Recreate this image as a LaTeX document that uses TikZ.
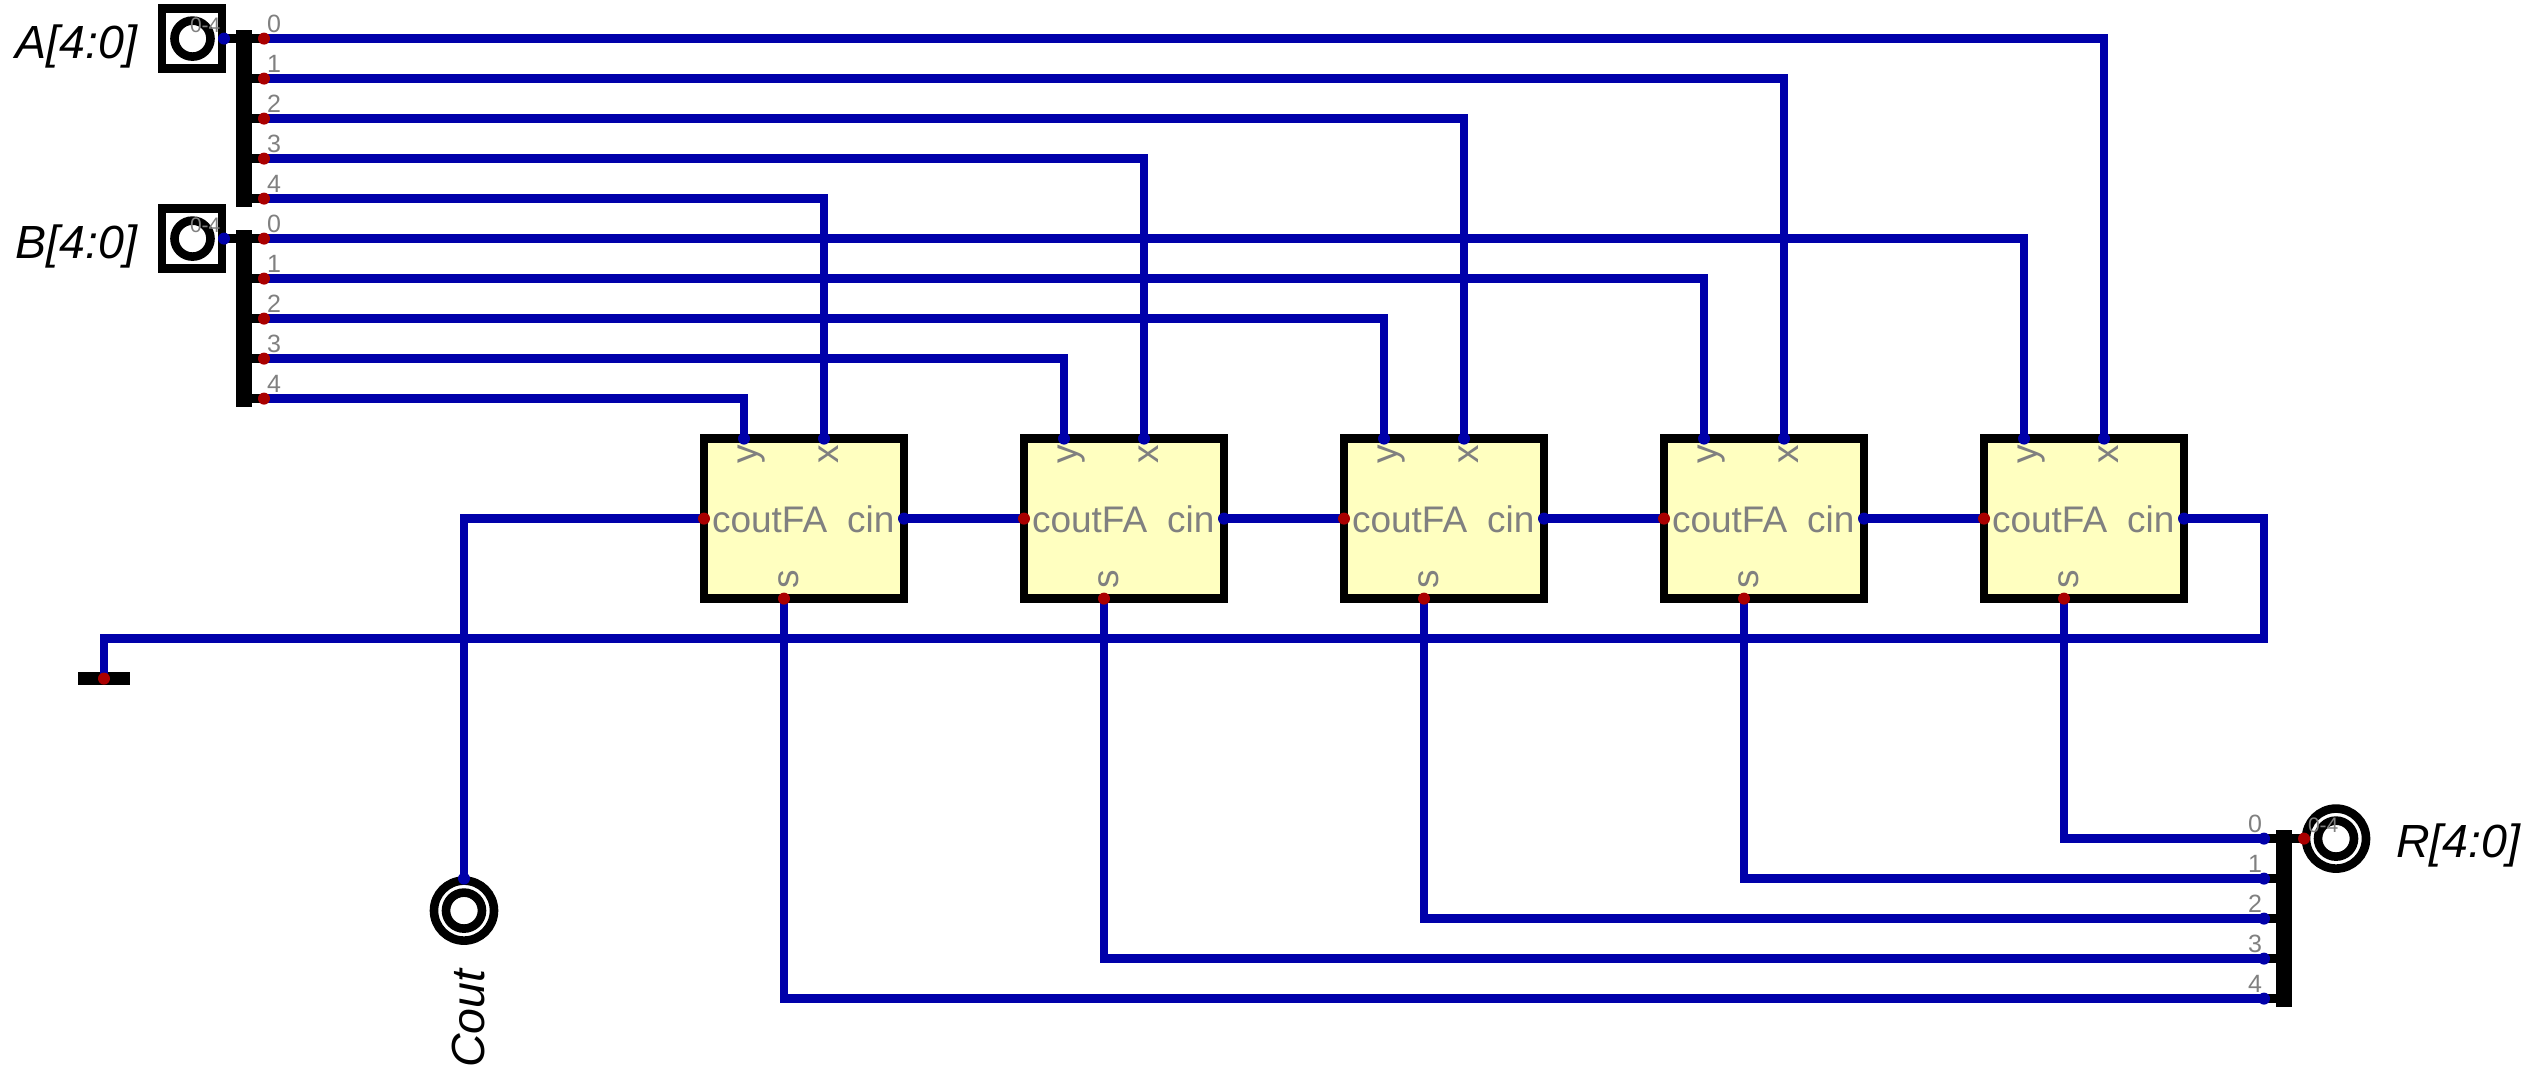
\documentclass[tikz,border=0pt]{standalone}
\usepackage{fontspec}
\setmainfont{Liberation Sans}
\definecolor{wireblue}{RGB}{0,0,170}
\definecolor{pinred}{RGB}{170,0,0}
\definecolor{boxyellow}{RGB}{255,255,192}
\definecolor{pingrey}{RGB}{128,128,128}
\newcommand{\fsize}[1]{\fontsize{#1}{#1}\selectfont}
\tikzset{
  wire/.style={draw=wireblue,line width=8.6pt},
  stub/.style={draw=black,line width=8.6pt},
  fabox/.style={draw=black,line width=8.6pt,fill=boxyellow,rectangle,minimum width=200pt,minimum height=160pt,inner sep=0pt,outer sep=0pt},
  inbox/.style={draw=black,line width=8.6pt,fill=white,rectangle,minimum size=60pt,inner sep=0pt,outer sep=0pt},
  ring/.style={draw=black,line width=8.6pt,circle,inner sep=0pt,outer sep=0pt,minimum size=#1},
  splitbar/.style={fill=black,rectangle,minimum width=16.6pt,minimum height=176.6pt,inner sep=0pt,outer sep=0pt},
  gndbar/.style={fill=black,rectangle,minimum width=52.6pt,minimum height=12.6pt,inner sep=0pt,outer sep=0pt},
  dotblue/.style={fill=wireblue,circle,minimum size=12pt,inner sep=0pt,outer sep=0pt},
  dotred/.style={fill=pinred,circle,minimum size=12pt,inner sep=0pt,outer sep=0pt},
  pintext/.style={text=pingrey,font=\fsize{37},inner sep=0pt,outer sep=0pt},
  bittext/.style={text=pingrey,font=\fsize{25},inner sep=0pt,outer sep=0pt},
  rangetext/.style={text=pingrey,font=\fsize{21},inner sep=0pt,outer sep=0pt},
  nametext/.style={text=black,font=\fsize{46.5}\itshape,inner sep=0pt,outer sep=0pt},
}
\begin{document}
\begin{tikzpicture}[x=1pt,y=-1pt]
\fill[white] (0,-0.6) rectangle (2530,1075.4);
\useasboundingbox (0,-0.6) rectangle (2530,1075.4);

% Named pin points
\foreach \i/\x in {1/704,2/1024,3/1344,4/1664,5/1984}{
  \pgfmathsetmacro{\xy}{\x+40}
  \pgfmathsetmacro{\xx}{\x+120}
  \pgfmathsetmacro{\xs}{\x+80}
  \pgfmathsetmacro{\xc}{\x+200}
  \pgfmathsetmacro{\xm}{\x+100}
  \node[fabox] (fa\i) at (\xm,518) {};
  \coordinate (fa\i y) at (\xy,438);
  \coordinate (fa\i x) at (\xx,438);
  \coordinate (fa\i s) at (\xs,598);
  \coordinate (fa\i cout) at (\x,518);
  \coordinate (fa\i cin) at (\xc,518);
}
\foreach \b in {0,...,4}{
  \pgfmathsetmacro{\ya}{38+40*\b}
  \pgfmathsetmacro{\yb}{238+40*\b}
  \pgfmathsetmacro{\yr}{838+40*\b}
  \coordinate (a\b) at (264,\ya);
  \coordinate (b\b) at (264,\yb);
  \coordinate (r\b) at (2264,\yr);
  \coordinate (as\b) at (244,\ya);
  \coordinate (bs\b) at (244,\yb);
  \coordinate (rs\b) at (2284,\yr);
}
\coordinate (ain) at (224,38);
\coordinate (bin) at (224,238);
\coordinate (rout) at (2304,838);
\coordinate (gnd) at (104,678);
\coordinate (coutpin) at (464,878);
\coordinate (cr1) at (2264,638);
\coordinate (cr2) at (104,638);
\coordinate (cr3) at (2264,518);
\coordinate (cl1) at (464,518);

% Terminals
\node[inbox] (abox) at (192,38) {};
\node[ring=36pt] (aring) at (192.5,38) {};
\node[inbox] (bbox) at (192,238) {};
\node[ring=36pt] (bring) at (192.5,238) {};
\node[ring=60pt] (rout1) at (2336,838) {};
\node[ring=36pt] (rout2) at (2336,838) {};
\node[ring=60pt] (cout1) at (464,910) {};
\node[ring=36pt] (cout2) at (464,910) {};
\node[gndbar] (gbar) at (104,678) {};

% Splitters
\node[splitbar] (asplit) at (244,118) {};
\node[splitbar] (bsplit) at (244,318) {};
\node[splitbar] (rsplit) at (2284,918) {};
\draw[stub] (ain) -- (as0);
\draw[stub] (bin) -- (bs0);
\draw[stub] (rs0) -- (rout);
\foreach \b in {0,...,4}{
  \draw[stub] (as\b) -- (a\b);
  \draw[stub] (bs\b) -- (b\b);
  \draw[stub] (rs\b) -- (r\b);
}

% Wires
\draw[wire] (a0) -| (fa5x);
\draw[wire] (a1) -| (fa4x);
\draw[wire] (a2) -| (fa3x);
\draw[wire] (a3) -| (fa2x);
\draw[wire] (a4) -| (fa1x);
\draw[wire] (b0) -| (fa5y);
\draw[wire] (b1) -| (fa4y);
\draw[wire] (b2) -| (fa3y);
\draw[wire] (b3) -| (fa2y);
\draw[wire] (b4) -| (fa1y);
\draw[wire] (fa5s) |- (r0);
\draw[wire] (fa4s) |- (r1);
\draw[wire] (fa3s) |- (r2);
\draw[wire] (fa2s) |- (r3);
\draw[wire] (fa1s) |- (r4);
\draw[wire] (fa1cin) -- (fa2cout);
\draw[wire] (fa2cin) -- (fa3cout);
\draw[wire] (fa3cin) -- (fa4cout);
\draw[wire] (fa4cin) -- (fa5cout);
\draw[wire] (fa5cin) -- (cr3) -- (cr1) -- (cr2) -- (gnd);
\draw[wire] (fa1cout) -- (cl1) -- (coutpin);

% Pin dots
\foreach \i in {1,...,5}{
  \node[dotblue] (dy\i) at (fa\i y) {};
  \node[dotblue] (dx\i) at (fa\i x) {};
  \node[dotblue] (dc\i) at (fa\i cin) {};
  \node[dotred] (dco\i) at (fa\i cout) {};
  \node[dotred] (ds\i) at (fa\i s) {};
}
\foreach \b in {0,...,4}{
  \node[dotred] (da\b) at (a\b) {};
  \node[dotred] (db\b) at (b\b) {};
  \node[dotblue] (dr\b) at (r\b) {};
}
\node[dotblue] (dain) at (ain) {};
\node[dotblue] (dbin) at (bin) {};
\node[dotred] (drout) at (rout) {};
\node[dotred] (dgnd) at (gnd) {};
\node[dotblue] (dcoutp) at (coutpin) {};

% Pin texts
\foreach \i/\x in {1/704,2/1024,3/1344,4/1664,5/1984}{
  \pgfmathsetmacro{\ta}{\x+8}
  \pgfmathsetmacro{\tb}{\x+190.5}
  \pgfmathsetmacro{\ty}{\x+53}
  \pgfmathsetmacro{\tx}{\x+134}
  \pgfmathsetmacro{\ts}{\x+94}
  \node[pintext,anchor=base west] (tc\i) at (\ta,532) {coutFA};
  \node[pintext,anchor=base east] (tn\i) at (\tb,532) {cin};
  \node[pintext,anchor=base west,rotate=90] (ty\i) at (\ty,463) {y};
  \node[pintext,anchor=base west,rotate=90] (tx\i) at (\tx,463) {x};
  \node[pintext,anchor=base west,rotate=90] (ts\i) at (\ts,588) {s};
}
\foreach \b in {0,...,4}{
  \pgfmathsetmacro{\ya}{32+40*\b}
  \pgfmathsetmacro{\yb}{232+40*\b}
  \pgfmathsetmacro{\yr}{832+40*\b}
  \node[bittext,anchor=base west] (ta\b) at (267,\ya) {\b};
  \node[bittext,anchor=base west] (tb\b) at (267,\yb) {\b};
  \node[bittext,anchor=base east] (tr\b) at (2262,\yr) {\b};
}
\node[rangetext,anchor=base west] (ra) at (190,32) {0-4};
\node[rangetext,anchor=base west] (rb) at (190,232) {0-4};
\node[rangetext,anchor=base west] (rr) at (2308,832) {0-4};

% Names
\node[nametext,anchor=base east] (na) at (137,58) {A[4:0]};
\node[nametext,anchor=base east] (nb) at (137,258) {B[4:0]};
\node[nametext,anchor=base west] (nr) at (2396,857) {R[4:0]};
\node[nametext,anchor=base west,rotate=90] (nc) at (484,1067) {Cout};
\end{tikzpicture}
\end{document}
